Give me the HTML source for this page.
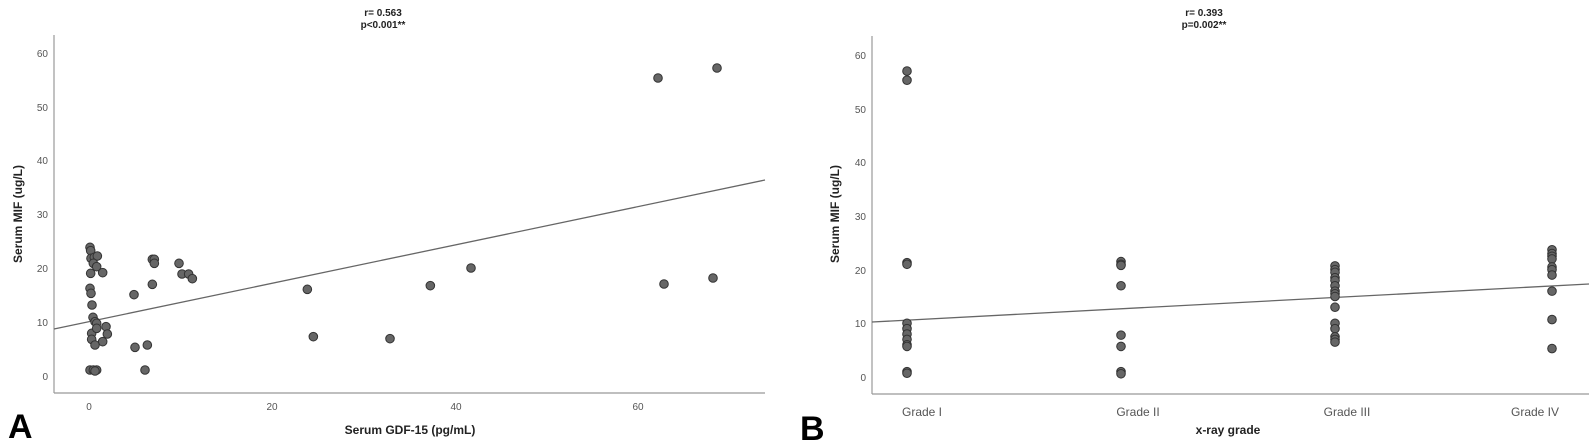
<!DOCTYPE html>
<html><head><meta charset="utf-8"><style>
html,body{margin:0;padding:0;background:#fff}
svg{display:block}
text{font-family:"Liberation Sans",Arial,sans-serif}
</style></head><body>
<svg id="s" width="1589" height="445" viewBox="0 0 1589 445" xmlns="http://www.w3.org/2000/svg">
<rect width="1589" height="445" fill="#fff"/>
<!-- Chart A -->
<line x1="54" y1="35" x2="54" y2="393" stroke="#999" stroke-width="1.2"/>
<line x1="54" y1="393" x2="765" y2="393" stroke="#999" stroke-width="1.2"/>
<g font-size="10" fill="#555" text-anchor="end">
<text x="48" y="57">60</text><text x="48" y="111">50</text><text x="48" y="164">40</text>
<text x="48" y="218">30</text><text x="48" y="272">20</text><text x="48" y="326">10</text><text x="48" y="380">0</text>
</g>
<g font-size="10" fill="#555" text-anchor="middle">
<text x="89" y="410">0</text><text x="272" y="410">20</text><text x="456" y="410">40</text><text x="638" y="410">60</text>
</g>
<text x="383" y="16" font-size="10" font-weight="bold" text-anchor="middle" fill="#222">r= 0.563</text>
<text x="383" y="28" font-size="10" font-weight="bold" text-anchor="middle" fill="#222">p&lt;0.001**</text>
<text transform="translate(22,214) rotate(-90)" font-size="12" font-weight="bold" text-anchor="middle" fill="#222">Serum MIF (ug/L)</text>
<text x="410" y="434" font-size="12" font-weight="bold" text-anchor="middle" fill="#222">Serum GDF-15 (pg/mL)</text>
<text x="8" y="438" font-size="34" font-weight="bold" fill="#000">A</text>
<line x1="54" y1="329" x2="765" y2="180" stroke="#666" stroke-width="1.3"/>
<g id="pa" fill="#666" stroke="#333" stroke-width="1"></g>
<!-- Chart B -->
<line x1="872" y1="36" x2="872" y2="394" stroke="#999" stroke-width="1.2"/>
<line x1="872" y1="394" x2="1589" y2="394" stroke="#999" stroke-width="1.2"/>
<g font-size="10" fill="#555" text-anchor="end">
<text x="866" y="59">60</text><text x="866" y="113">50</text><text x="866" y="166">40</text>
<text x="866" y="220">30</text><text x="866" y="274">20</text><text x="866" y="327">10</text><text x="866" y="381">0</text>
</g>
<g font-size="12" fill="#555" text-anchor="middle">
<text x="922" y="416">Grade I</text><text x="1138" y="416">Grade II</text><text x="1347" y="416">Grade III</text><text x="1535" y="416">Grade IV</text>
</g>
<text x="1204" y="16" font-size="10" font-weight="bold" text-anchor="middle" fill="#222">r= 0.393</text>
<text x="1204" y="28" font-size="10" font-weight="bold" text-anchor="middle" fill="#222">p=0.002**</text>
<text transform="translate(839,214) rotate(-90)" font-size="12" font-weight="bold" text-anchor="middle" fill="#222">Serum MIF (ug/L)</text>
<text x="1228" y="434" font-size="12" font-weight="bold" text-anchor="middle" fill="#222">x-ray grade</text>
<text x="800" y="440" font-size="34" font-weight="bold" fill="#000">B</text>
<line x1="872" y1="322" x2="1589" y2="284" stroke="#666" stroke-width="1.3"/>
<g id="pb" fill="#666" stroke="#333" stroke-width="1"></g>
</svg>
<script>
var NS="http://www.w3.org/2000/svg";
function dot(g,x,y){var c=document.createElementNS(NS,"circle");c.setAttribute("cx",x);c.setAttribute("cy",y);c.setAttribute("r",4.3);g.appendChild(c);}
var A=[[270,742],[272,752],[273,775],[283,772],[292,768],[280,790],[290,800],[272,820],[308,818],[270,865],[273,880],[276,915],[279,952],[285,965],[290,970],[275,1000],[290,985],[318,980],[322,1002],[275,1018],[308,1025],[285,1035],[270,1110],[280,1110],[290,1110],[285,1113],
[402,884],[405,1042],[435,1110],[442,1035],[457,853],[457,778],[463,778],[463,790],[537,790],[546,822],[566,822],[577,836],[922,868],[940,1010],[1170,1016],[1291,857],[1413,804]];
var ga=document.getElementById("pa");
A.forEach(function(p){dot(ga,p[0]/3,p[1]/3);});
[[658,78],[717,68],[664,284],[713,278]].forEach(function(p){dot(ga,p[0],p[1]);});
var gb=document.getElementById("pb");
var B={907:[57,55.3,21.3,21,10,9,8,7,6,5.7,1,0.7],1121:[21.5,21,20.8,17,7.8,5.7,1,0.6],1335:[20.7,20,19.5,18.5,18,17,16,15.5,15,13,10,9,7.5,7,6.5],1552:[23.7,23,22.5,22,20.5,20,19,16,10.7,5.3]};
for(var k in B){B[k].forEach(function(v){dot(gb,+k,377-v*5.367);});}
</script>
</body></html>
